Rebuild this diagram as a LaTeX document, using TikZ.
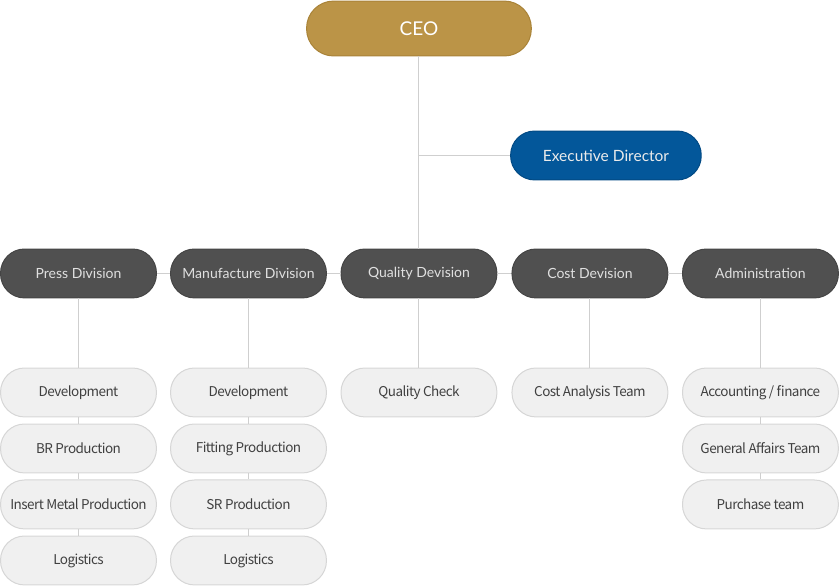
\documentclass[tikz,border=0pt]{standalone}
\usepackage{fontspec}
\setmainfont{Lato}
\newfontfamily\teamfont[LetterSpace=-4]{Noto Sans CJK KR}
\usetikzlibrary{positioning}
\definecolor{ceogold}{HTML}{BB9447}
\definecolor{ceoedge}{HTML}{A98338}
\definecolor{execblue}{HTML}{03579A}
\definecolor{execedge}{HTML}{024A84}
\definecolor{divgray}{HTML}{505050}
\definecolor{divedge}{HTML}{454545}
\definecolor{teamfill}{HTML}{F0F0F0}
\definecolor{teamedge}{HTML}{D6D6D6}
\definecolor{linkgray}{HTML}{CFCFCF}
\tikzset{
  link/.style={draw=linkgray, line width=1pt},
  ceobox/.style={draw=ceoedge, fill=ceogold, rounded corners=27pt, line width=1pt, minimum width=7.9cm, minimum height=1.93cm, text=white, font=\fontsize{19}{22}\selectfont},
  execbox/.style={draw=execedge, fill=execblue, rounded corners=24pt, line width=1pt, minimum width=6.7cm, minimum height=1.72cm, text=white!92!black, font=\fontsize{15.5}{18}\selectfont},
  divbox/.style={draw=divedge, fill=divgray, rounded corners=24pt, line width=1pt, minimum width=5.48cm, minimum height=1.72cm, text=white!88!black, font=\fontsize{14}{17}\selectfont},
  teambox/.style={draw=teamedge, fill=teamfill, rounded corners=24pt, line width=1pt, minimum width=5.48cm, minimum height=1.72cm, text=black!75, font=\teamfont\fontsize{13.5}{16}\selectfont}
}
\begin{document}
\begin{tikzpicture}
  \useasboundingbox (0,0) rectangle (29.49,-20.6);
  % top
  \node[ceobox] (ceo) at (14.726,-1.002) {CEO};
  \node[execbox] (exec) at (21.298,-5.465) {Executive Director};
  % divisions
  \node[divbox] (press) at (2.759,-9.612) {Press Division};
  \node[divbox] (manu) at (8.734,-9.612) {Manufacture Division};
  \node[divbox] (quality) at (14.726,-9.612) {Quality Devision};
  \node[divbox] (cost) at (20.736,-9.612) {Cost Devision};
  \node[divbox] (admin) at (26.729,-9.612) {Administration};
  % teams
  \node[teambox] (press1) at (2.759,-13.795) {Development};
  \node[teambox] (press2) at (2.759,-15.763) {BR Production};
  \node[teambox] (press3) at (2.759,-17.731) {Insert Metal Production};
  \node[teambox] (press4) at (2.759,-19.700) {Logistics};
  \node[teambox] (manu1) at (8.734,-13.795) {Development};
  \node[teambox] (manu2) at (8.734,-15.763) {Fitting Production};
  \node[teambox] (manu3) at (8.734,-17.731) {SR Production};
  \node[teambox] (manu4) at (8.734,-19.700) {Logistics};
  \node[teambox] (quality1) at (14.726,-13.795) {Quality Check};
  \node[teambox] (cost1) at (20.736,-13.795) {Cost Analysis Team};
  \node[teambox] (admin1) at (26.729,-13.795) {Accounting / finance};
  \node[teambox] (admin2) at (26.729,-15.763) {General Affairs Team};
  \node[teambox] (admin3) at (26.729,-17.731) {Purchase team};
  % links
  \draw[link] (ceo) -- (quality);
  \draw[link] (exec) -- (exec.west -| ceo.south);
  \draw[link] (press) -- (manu);
  \draw[link] (manu) -- (quality);
  \draw[link] (quality) -- (cost);
  \draw[link] (cost) -- (admin);
  \draw[link] (press) -- (press1);
  \draw[link] (press1) -- (press2);
  \draw[link] (press2) -- (press3);
  \draw[link] (press3) -- (press4);
  \draw[link] (manu) -- (manu1);
  \draw[link] (manu1) -- (manu2);
  \draw[link] (manu2) -- (manu3);
  \draw[link] (manu3) -- (manu4);
  \draw[link] (quality) -- (quality1);
  \draw[link] (cost) -- (cost1);
  \draw[link] (admin) -- (admin1);
  \draw[link] (admin1) -- (admin2);
  \draw[link] (admin2) -- (admin3);
\end{tikzpicture}
\end{document}
